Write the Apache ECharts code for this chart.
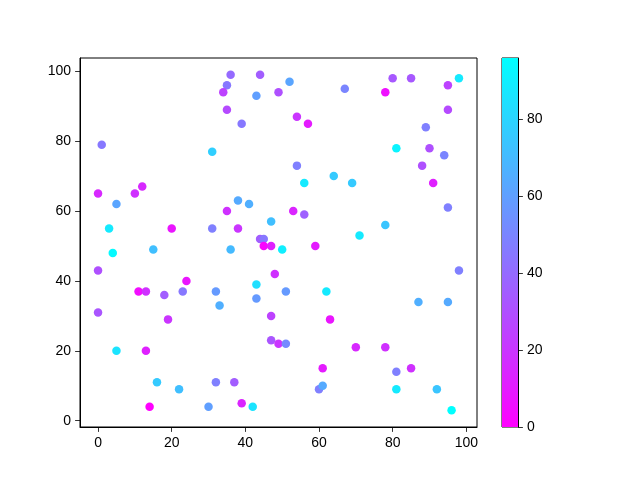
<!DOCTYPE html>
<html>
<head>
<meta charset="utf-8">
<script src="https://cdn.jsdelivr.net/npm/echarts@6/dist/echarts.min.js"></script>
<style>html,body{margin:0;padding:0;background:#fff}#c{width:640px;height:480px}</style>
</head>
<body>
<div id="c"></div>
<script>
const xValues = [36,44,52,35,34,43,49,35,39,1,31,0,12,10,5,38,41,35,47,3,20,31,38,44,45,45,47,50,67,80,85,78,95,98,95,54,57,89,81,90,94,88,54,91,64,56,69,53,56,95,78,71,4,15,36,0,24,48,43,11,13,18,23,32,33,43,0,19,47,47,49,5,13,16,22,32,37,14,30,39,42,59,98,51,62,87,95,63,51,70,78,61,81,85,60,61,81,92,96];
const yValues = [99,99,97,96,94,93,94,89,85,79,77,65,67,65,62,63,62,60,57,55,55,55,55,52,52,50,50,49,95,98,98,94,96,98,89,87,85,84,78,78,76,73,73,68,70,68,68,60,59,61,56,53,48,49,49,43,40,42,39,37,37,36,37,37,33,35,31,29,30,23,22,20,20,11,9,11,11,4,4,5,4,50,43,37,37,34,34,29,22,21,21,15,14,15,9,10,9,9,3];
const colorValues = [40,35,62,45,25,60,30,28,45,45,78,15,15,18,62,64,66,18,72,88,8,48,20,35,45,2,12,90,50,33,33,6,25,88,28,20,10,48,92,30,50,30,48,12,76,88,76,14,36,48,74,88,94,72,70,30,8,18,84,5,18,35,45,58,66,58,32,20,25,32,20,86,12,76,72,48,35,0,60,14,86,10,48,58,88,66,64,8,52,15,18,10,48,18,48,64,88,74,96];
const xTicks = [0,20,40,60,80,100];
const yTicks = [0,20,40,60,80,100];
const cbarTicks = [0,20,40,60,80];
const cMin = 0, cMax = 96;

const points = xValues.map((x,i)=>[x, yValues[i], colorValues[i]]);
const font = 'Liberation Sans';
const chart = echarts.init(document.getElementById('c'), null, {renderer:'canvas'});
const axisCommon = {
  axisLine:{show:true,onZero:false,lineStyle:{color:'#000',width:1}},
  axisTick:{show:true,length:4.9,inside:false,lineStyle:{color:'#000',width:0.8}},
  axisLabel:{color:'#000',fontFamily:font,fontSize:14,margin:9},
  splitLine:{show:false}
};
chart.setOption({
  animation:false,
  backgroundColor:'#fff',
  grid:[
    {left:80,top:58,width:397,height:369,show:true,borderColor:'#000',borderWidth:1,backgroundColor:'transparent'},
    {left:502,top:58,width:16,height:369,show:true,borderColor:'#000',borderWidth:1,backgroundColor:'transparent'}
  ],
  xAxis:[
    Object.assign({}, axisCommon, {type:'value',gridIndex:0,min:-4.9,max:102.9,
      axisTick:Object.assign({}, axisCommon.axisTick,{customValues:xTicks}),
      axisLabel:Object.assign({}, axisCommon.axisLabel,{customValues:xTicks})}),
    {type:'category',gridIndex:1,data:['c'],show:false}
  ],
  yAxis:[
    Object.assign({}, axisCommon, {type:'value',gridIndex:0,min:-1.8,max:103.8,
      axisTick:Object.assign({}, axisCommon.axisTick,{customValues:yTicks}),
      axisLabel:Object.assign({}, axisCommon.axisLabel,{customValues:yTicks})}),
    Object.assign({}, axisCommon, {type:'value',gridIndex:1,position:'right',min:cMin,max:cMax,
      axisTick:Object.assign({}, axisCommon.axisTick,{customValues:cbarTicks}),
      axisLabel:Object.assign({}, axisCommon.axisLabel,{customValues:cbarTicks})})
  ],
  visualMap:{show:false,type:'continuous',seriesIndex:0,dimension:2,min:cMin,max:cMax,
    inRange:{color:['#ff00ff','#00ffff']}},
  series:[
    {type:'scatter',xAxisIndex:0,yAxisIndex:0,data:points,symbolSize:8.5,itemStyle:{opacity:1}},
    {type:'bar',xAxisIndex:1,yAxisIndex:1,data:[cMax],barWidth:'100%',silent:true,
      itemStyle:{color:{type:'linear',x:0,y:1,x2:0,y2:0,colorStops:[{offset:0,color:'#ff00ff'},{offset:1,color:'#00ffff'}]}}}
  ]
});
</script>
</body>
</html>
